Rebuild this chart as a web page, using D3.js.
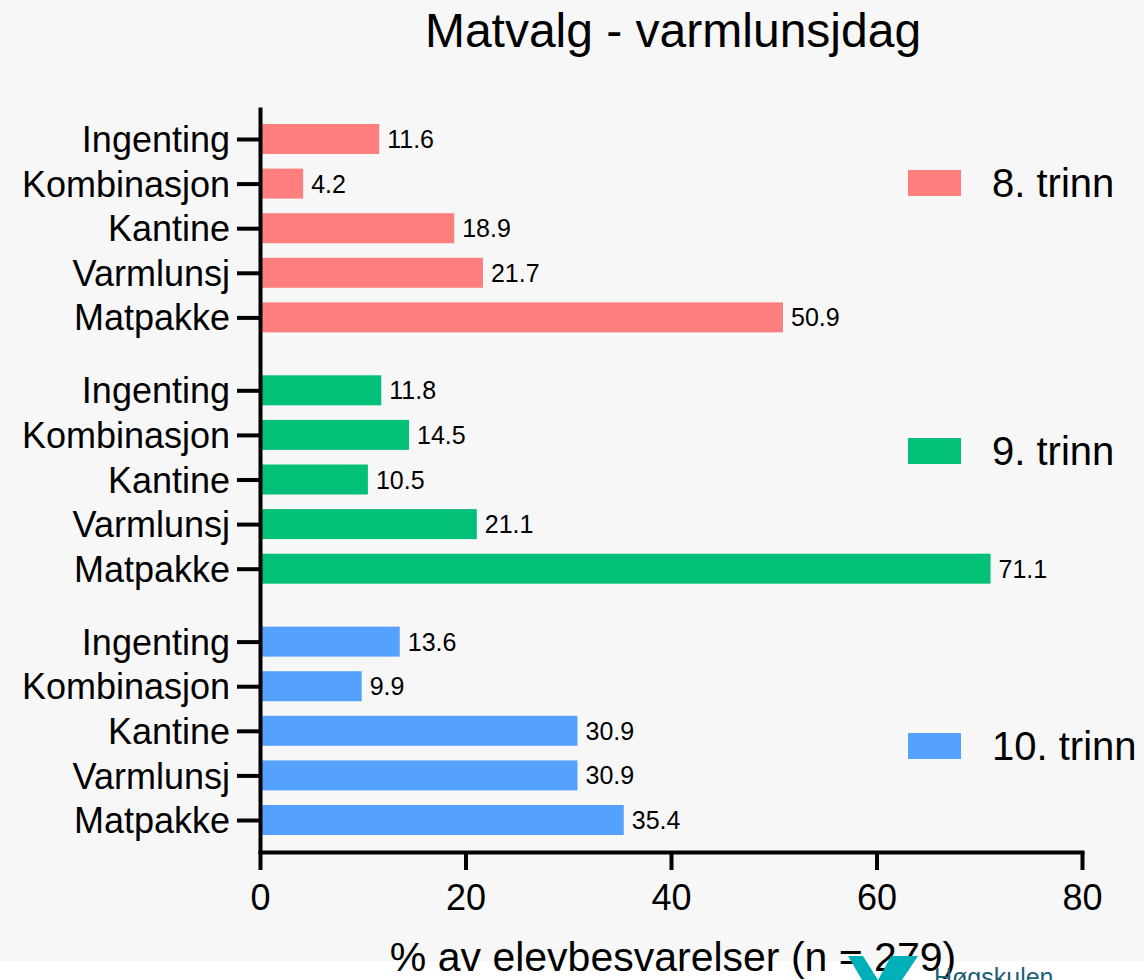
<!DOCTYPE html>
<html>
<head>
<meta charset="utf-8">
<script src="https://cdn.jsdelivr.net/npm/d3@7"></script>
<style>
  html, body { margin: 0; padding: 0; background: #ffffff; }
  svg { display: block; font-family: "Liberation Sans", Arial, sans-serif; }
</style>
</head>
<body>
<svg id="chart" width="1144" height="980"></svg>
<script>
const categories = ["Ingenting", "Kombinasjon", "Kantine", "Varmlunsj", "Matpakke"];
const grades = ["8. trinn", "9. trinn", "10. trinn"];
const values8 = [11.6, 4.2, 18.9, 21.7, 50.9];
const values9 = [11.8, 14.5, 10.5, 21.1, 71.1];
const values10 = [13.6, 9.9, 30.9, 30.9, 35.4];
const colors = ["#ff7f7f", "#03c079", "#55a1ff"];
const xTicks = [0, 20, 40, 60, 80];
const titleText = "Matvalg - varmlunsjdag";
const xTitleText = "% av elevbesvarelser (n = 279)";

const seriesValues = [values8, values9, values10];
const groupGap = 0.635;
const rows = [];
seriesValues.forEach((vals, g) => {
  vals.forEach((v, i) => {
    rows.push({ grade: g, cat: categories[i], value: v, slot: g * (categories.length + groupGap) + i });
  });
});
const lastSlot = rows[rows.length - 1].slot;

const svg = d3.select("#chart");
svg.append("rect").attr("x", 0).attr("y", 0).attr("width", 1144).attr("height", 961).attr("fill", "#f7f7f7");

const x = d3.scaleLinear().domain([0, 80]).range([260, 1082]);
const y = d3.scaleLinear().domain([-0.7175, lastSlot + 0.7175]).range([107, 852]);
const barH = 30;

// title
svg.append("text").attr("x", 673).attr("y", 47).attr("text-anchor", "middle")
  .attr("font-size", 48).attr("fill", "#000").text(titleText);

// bars
svg.append("g").selectAll("rect").data(rows).join("rect")
  .attr("x", x(0) + 2)
  .attr("y", d => y(d.slot) - barH / 2)
  .attr("width", d => x(d.value) - x(0) - 2)
  .attr("height", barH)
  .attr("fill", d => colors[d.grade]);

// value labels
svg.append("g").selectAll("text").data(rows).join("text")
  .attr("x", d => x(d.value) + 8)
  .attr("y", d => y(d.slot))
  .attr("dy", "0.36em")
  .attr("font-size", 25)
  .attr("fill", "#000")
  .text(d => d.value.toFixed(1));

// y axis
const yAxis = d3.axisLeft(y)
  .tickValues(rows.map(d => d.slot))
  .tickFormat(s => rows.find(r => r.slot === s).cat)
  .tickSizeInner(23).tickSizeOuter(0).tickPadding(7);
const gy = svg.append("g").attr("transform", `translate(${x(0)},0)`).call(yAxis);
gy.select(".domain").attr("stroke", "#000").attr("stroke-width", 4);
gy.selectAll(".tick line").attr("stroke", "#000").attr("stroke-width", 4);
gy.selectAll(".tick text").attr("font-size", 36).attr("fill", "#000")
  .attr("font-family", "Liberation Sans, Arial, sans-serif").attr("dy", "0.35em");

// x axis
const xAxis = d3.axisBottom(x).tickValues(xTicks).tickFormat(d3.format("d"))
  .tickSizeInner(18).tickSizeOuter(0).tickPadding(14);
const gx = svg.append("g").attr("transform", `translate(0,852)`).call(xAxis);
gx.select(".domain").attr("stroke", "#000").attr("stroke-width", 4).attr("stroke-linecap", "square");
gx.selectAll(".tick line").attr("stroke", "#000").attr("stroke-width", 4);
gx.selectAll(".tick text").attr("font-size", 36).attr("fill", "#000")
  .attr("font-family", "Liberation Sans, Arial, sans-serif");

// x title
svg.append("text").attr("x", 673).attr("y", 971).attr("text-anchor", "middle")
  .attr("font-size", 41).attr("fill", "#000").text(xTitleText);

// legend
const legendY = [183, 451, 746];
const lg = svg.append("g").selectAll("g").data(grades).join("g")
  .attr("transform", (d, i) => `translate(908,${legendY[i]})`);
lg.append("rect").attr("x", 0).attr("y", -13).attr("width", 53).attr("height", 26)
  .attr("fill", (d, i) => colors[i]);
lg.append("text").attr("x", 84).attr("y", 0).attr("dy", "0.35em")
  .attr("font-size", 40).attr("fill", "#000").text(d => d);

// logo (partially visible at bottom)
const logo = svg.append("g");
logo.append("path").attr("d", "M848,956 L863,956 L878,980 L862,980 Z").attr("fill", "#00b0b9");
logo.append("path").attr("d", "M891,956 L918,956 L902,980 L878,980 Z").attr("fill", "#00b0b9");
logo.append("text").attr("x", 934).attr("y", 986).attr("font-size", 25)
  .attr("fill", "#1d5f73").text("Høgskulen");
</script>
</body>
</html>
